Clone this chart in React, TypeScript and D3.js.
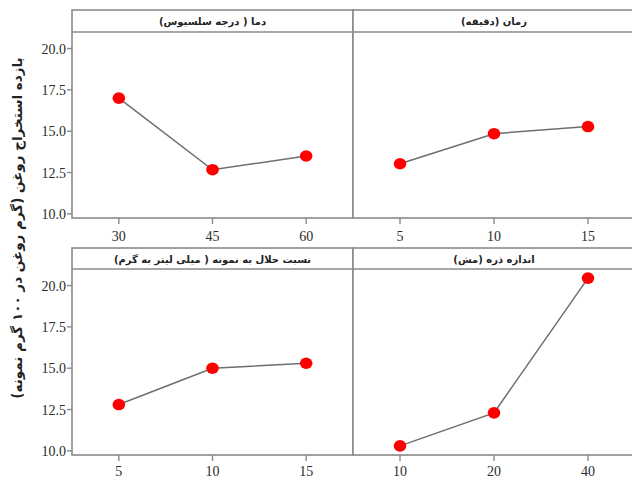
import React from "react";
import * as d3 from "d3";

const yTicks = [10.0, 12.5, 15.0, 17.5, 20.0];
const yLabel = "بازده استخراج روغن (گرم روغن در ۱۰۰ گرم نمونه)";

const tempTitle = "دما ( درجه سلسیوس)";
const tempLevels = ["30", "45", "60"];
const tempMeans = [17.0, 12.67, 13.5];

const timeTitle = "زمان (دقیقه)";
const timeLevels = ["5", "10", "15"];
const timeMeans = [13.03, 14.85, 15.28];

const ratioTitle = "نسبت حلال به نمونه ( میلی لیتر به گرم)";
const ratioLevels = ["5", "10", "15"];
const ratioMeans = [12.8, 15.0, 15.3];

const sizeTitle = "اندازه ذره (مش)";
const sizeLevels = ["10", "20", "40"];
const sizeMeans = [10.3, 12.3, 20.45];

const panels = [
  { title: tempTitle, levels: tempLevels, means: tempMeans, col: 0, row: 0 },
  { title: timeTitle, levels: timeLevels, means: timeMeans, col: 1, row: 0 },
  { title: ratioTitle, levels: ratioLevels, means: ratioMeans, col: 0, row: 1 },
  { title: sizeTitle, levels: sizeLevels, means: sizeMeans, col: 1, row: 1 },
];

const colX = [72, 353, 635];
const rows = [
  { top: 10, headBottom: 32, bottom: 218 },
  { top: 248, headBottom: 269, bottom: 455 },
];
const yDomain: [number, number] = [9.75, 21.0];

const frame = "#8a8a8a";
const axisText = "#2b2b2b";

function Panel({ p }: { p: (typeof panels)[number] }) {
  const x0 = colX[p.col];
  const x1 = colX[p.col + 1];
  const r = rows[p.row];
  const x = d3.scalePoint<string>().domain(p.levels).range([x0, x1]).padding(0.5);
  const y = d3.scaleLinear().domain(yDomain).range([r.bottom, r.headBottom]);
  const data = p.levels.map((l, i) => ({ l, v: p.means[i] }));
  const line = d3
    .line<{ l: string; v: number }>()
    .x((d) => x(d.l) as number)
    .y((d) => y(d.v));
  return (
    <g>
      <rect x={x0} y={r.top} width={x1 - x0} height={r.bottom - r.top} fill="white" stroke={frame} strokeWidth={1.6} />
      <line x1={x0} x2={x1} y1={r.headBottom} y2={r.headBottom} stroke={frame} strokeWidth={1.6} />
      <text
        x={(x0 + x1) / 2}
        y={(r.top + r.headBottom) / 2 + 4}
        textAnchor="middle"
        fontFamily="'DejaVu Sans', sans-serif"
        fontWeight="bold"
        fontSize={10}
        fill="#222"
        direction="rtl"
      >
        {p.title}
      </text>
      {p.levels.map((l) => (
        <g key={l}>
          <line x1={x(l)} x2={x(l)} y1={r.bottom} y2={r.bottom + 6} stroke={frame} strokeWidth={1.4} />
          <text
            x={x(l)}
            y={r.bottom + (p.row === 0 ? 23 : 21)}
            textAnchor="middle"
            fontFamily="'Liberation Serif', serif"
            fontSize={14}
            fill={axisText}
          >
            {l}
          </text>
        </g>
      ))}
      {p.col === 0 &&
        yTicks.map((t) => (
          <g key={t}>
            <line x1={x0 - 5} x2={x0} y1={y(t)} y2={y(t)} stroke={frame} strokeWidth={1.4} />
            <text
              x={x0 - 6}
              y={y(t) + 5}
              textAnchor="end"
              fontFamily="'Liberation Serif', serif"
              fontSize={14}
              fill={axisText}
            >
              {t.toFixed(1)}
            </text>
          </g>
        ))}
      <path d={line(data) || ""} fill="none" stroke="#6e6e6e" strokeWidth={1.5} />
      {data.map((d) => (
        <ellipse key={d.l} cx={x(d.l)} cy={y(d.v)} rx={6.3} ry={5.8} fill="#ff0000" />
      ))}
    </g>
  );
}

export default function App() {
  return (
    <svg
      width={632}
      height={477}
      style={{ position: "absolute", left: 0, top: 0, background: "white" }}
    >
      <rect width={632} height={477} fill="white" />
      {panels.map((p) => (
        <Panel key={p.title} p={p} />
      ))}
      <text
        transform="translate(22,228) rotate(-90)"
        textAnchor="middle"
        fontFamily="'DejaVu Sans', sans-serif"
        fontWeight="bold"
        fontSize={13.5}
        fill="#222"
        direction="rtl"
      >
        {yLabel}
      </text>
    </svg>
  );
}
